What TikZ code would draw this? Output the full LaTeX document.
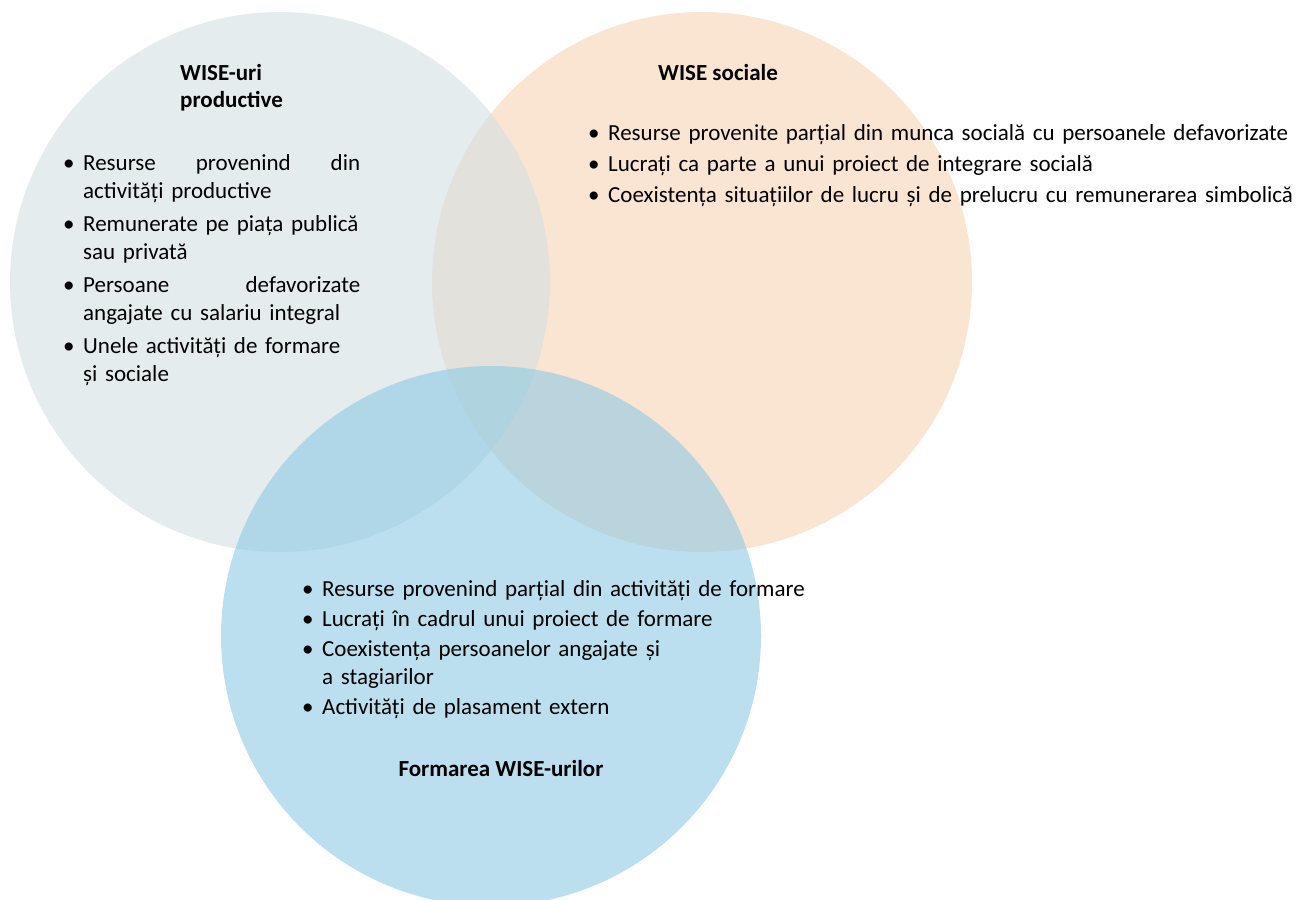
\documentclass[tikz,border=0pt]{standalone}
\usepackage{fontspec}
\setmainfont{Carlito}
\usetikzlibrary{positioning}

\definecolor{socialpeach}{RGB}{247,212,180}
\definecolor{productivegrey}{RGB}{212,223,227}
\definecolor{formareblue}{RGB}{142,202,227}

\newcommand{\wiseitem}[1]{\hangindent=20pt\hangafter=1\noindent\makebox[20pt][l]{\textbullet}#1\par}

\tikzset{
  venn/.style={circle, draw=none, fill opacity=0.6, minimum size=540pt, inner sep=0pt},
  listtext/.style={anchor=base west, inner sep=0pt, align=left, text width=#1,
    font=\fontsize{23}{28.5}\selectfont},
  titletext/.style={inner sep=0pt, font=\fontsize{23}{28}\selectfont\bfseries}
}

\begin{document}
\begin{tikzpicture}[x=1pt, y=-1pt]
  \useasboundingbox (0,0) rectangle (1297,899);

  % the three sets
  \node[venn, fill=socialpeach] (social) at (702,282) {};
  \node[venn, fill=productivegrey] (productive) at (280,282) {};
  \node[venn, fill=formareblue] (formare) at (491,636) {};

  % productive WISE
  \node[titletext, anchor=base west, align=left, text width=120pt] (productivetitle) at (180,80) {WISE-uri\\productive};
  \node[listtext=297pt] (productivelist) at (63,170) {\setlength{\parskip}{4pt}%
    \wiseitem{Resurse\hfill provenind\hfill din\linebreak activități productive}
    \wiseitem{Remunerate pe piața publică\linebreak sau privată}
    \wiseitem{Persoane\hfill defavorizate\linebreak angajate cu salariu integral}
    \wiseitem{Unele activități de formare\linebreak și sociale}};

  % social WISE
  \node[titletext, anchor=base west] (socialtitle) at (658,80) {WISE sociale};
  \node[listtext=720pt] (sociallist) at (588,140) {\setlength{\parskip}{2.5pt}%
    \wiseitem{Resurse provenite parțial din munca socială cu persoanele defavorizate}
    \wiseitem{Lucrați ca parte a unui proiect de integrare socială}
    \wiseitem{Coexistența situațiilor de lucru și de prelucru cu remunerarea simbolică}};

  % training WISE
  \node[listtext=540pt] (formarelist) at (302,596) {\setlength{\parskip}{1.5pt}%
    \wiseitem{Resurse provenind parțial din activități de formare}
    \wiseitem{Lucrați în cadrul unui proiect de formare}
    \wiseitem{Coexistența persoanelor angajate și\linebreak a stagiarilor}
    \wiseitem{Activități de plasament extern}};
  \node[titletext, anchor=base] (formaretitle) at (501,776) {Formarea WISE-urilor};
\end{tikzpicture}
\end{document}
